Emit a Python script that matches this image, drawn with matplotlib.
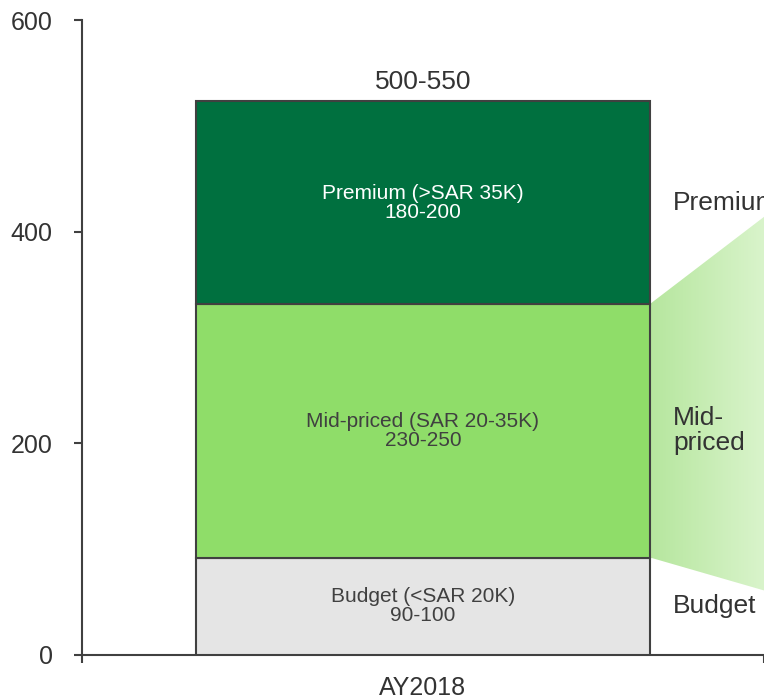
import matplotlib
matplotlib.use("Agg")
import matplotlib.pyplot as plt
import numpy as np
from matplotlib.colors import LinearSegmentedColormap
from matplotlib.patches import Polygon

plt.rcParams["font.family"] = ["Liberation Sans", "DejaVu Sans"]

# data
category = "AY2018"
segments = ["Budget", "Mid-priced", "Premium"]
segment_values = [92, 240, 191]
segment_labels = ["Budget (<SAR 20K)\n90-100", "Mid-priced (SAR 20-35K)\n230-250", "Premium (>SAR 35K)\n180-200"]
side_labels = ["Budget", "Mid-\npriced", "Premium"]
total_label = "500-550"
colors = ["#e5e5e5", "#8fdd69", "#00703f"]
text_colors = ["#404040", "#404040", "#ffffff"]
# decorative funnel to the right of the mid segment (y at bar edge, y at chart edge)
funnel_top = [332, 414]
funnel_bottom = [92, 61]

fig = plt.figure(figsize=(7.64, 7.0), dpi=100)
ax = fig.add_axes([82 / 764, 45 / 700, 682 / 764, 635 / 700])

bar_w = 0.667
bottom = 0
for val, col, lab, tc in zip(segment_values, colors, segment_labels, text_colors):
    ax.bar(0, val, bottom=bottom, width=bar_w, color=col, edgecolor="#404040", linewidth=1.5, zorder=3)
    ax.text(0, bottom + val / 2, lab, ha="center", va="center", fontsize=15, color=tc,
            linespacing=1.0, zorder=4)
    bottom += val
ax.text(0, bottom + 18, total_label, ha="center", va="center", fontsize=19, color="#333333")

# gradient funnel
x0, x1 = bar_w / 2, 0.5
grad = LinearSegmentedColormap.from_list("g", ["#b6e69e", "#d9f4cb"])
im = ax.imshow(np.linspace(0, 1, 256).reshape(1, -1), cmap=grad, aspect="auto",
               extent=[x0, x1, 0, 600], zorder=1)
poly = Polygon([[x0, funnel_bottom[0]], [x1, funnel_bottom[1]], [x1, funnel_top[1]], [x0, funnel_top[0]]],
               closed=True, facecolor="none", edgecolor="none", transform=ax.transData)
ax.add_patch(poly)
im.set_clip_path(poly)

# side labels
cum = np.cumsum([0] + segment_values)
side_y = [cum[i] + segment_values[i] / 2 for i in range(3)]
for lab, y in zip(side_labels, side_y):
    ax.text(0.3665, y, lab, ha="left", va="center", fontsize=19, color="#333333", linespacing=1.05,
            clip_on=False)

ax.set_xlim(-0.5, 0.5)
ax.set_ylim(0, 600)
ax.set_yticks([0, 200, 400, 600])
ax.tick_params(axis="y", labelsize=18, labelcolor="#333333", color="#404040", length=6, width=1.5, pad=15)
ax.set_xticks([0])
ax.set_xticklabels([category])
ax.set_xticks([-0.5, 0.5], minor=True)
ax.tick_params(axis="x", which="major", length=0, labelsize=18, labelcolor="#333333", pad=15)
ax.tick_params(axis="x", which="minor", length=6, width=1.5, color="#404040")
for s in ["top", "right"]:
    ax.spines[s].set_visible(False)
for s in ["left", "bottom"]:
    ax.spines[s].set_color("#404040")
    ax.spines[s].set_linewidth(1.5)

fig.savefig("out.png", dpi=100)
